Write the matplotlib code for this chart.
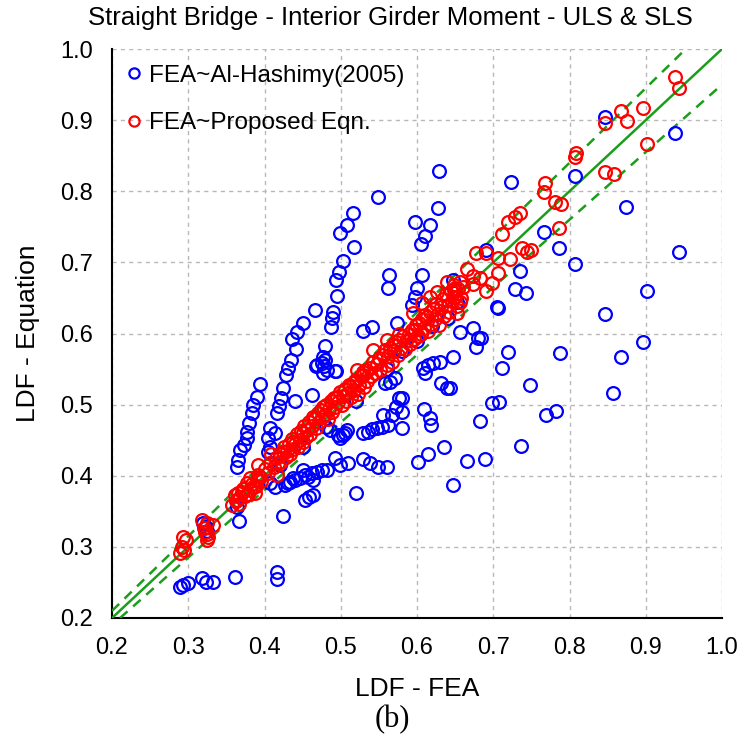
import matplotlib
matplotlib.use("Agg")
import matplotlib.pyplot as plt
import numpy as np

# LDF pairs (FEA, equation) for the interior girder moment, straight bridges
alhashimy = [
    # lowest group
    (0.289, 0.243), (0.293, 0.246), (0.300, 0.249), (0.318, 0.256), (0.323, 0.250),
    (0.332, 0.250), (0.361, 0.257), (0.416, 0.264), (0.416, 0.255),
    (0.319, 0.333), (0.325, 0.323), (0.323, 0.328), (0.364, 0.356), (0.366, 0.336),
    (0.424, 0.343),
    # steep streaks above the line
    (0.364, 0.412), (0.365, 0.422), (0.368, 0.436), (0.373, 0.443), (0.377, 0.453),
    (0.377, 0.461), (0.380, 0.474), (0.383, 0.488), (0.385, 0.499), (0.390, 0.511),
    (0.394, 0.529),
    (0.405, 0.433), (0.407, 0.440), (0.405, 0.453), (0.414, 0.460), (0.407, 0.467),
    (0.417, 0.488), (0.419, 0.498), (0.421, 0.509), (0.424, 0.523), (0.428, 0.541),
    (0.431, 0.551), (0.435, 0.563), (0.441, 0.578), (0.436, 0.592), (0.442, 0.602),
    (0.450, 0.615), (0.440, 0.505), (0.462, 0.513), (0.466, 0.633),
    (0.479, 0.582), (0.477, 0.567), (0.467, 0.554), (0.478, 0.554), (0.477, 0.544),
    (0.494, 0.547), (0.487, 0.609), (0.489, 0.622), (0.490, 0.630), (0.495, 0.653),
    (0.494, 0.675), (0.498, 0.686), (0.503, 0.702), (0.518, 0.722), (0.499, 0.741),
    (0.508, 0.752), (0.516, 0.769), (0.549, 0.792),
    (0.475, 0.558), (0.469, 0.556), (0.482, 0.549), (0.492, 0.547), (0.479, 0.563),
    (0.529, 0.603), (0.541, 0.609), (0.574, 0.615), (0.563, 0.682), (0.562, 0.664),
    (0.606, 0.682), (0.600, 0.664), (0.597, 0.651), (0.593, 0.640), (0.598, 0.757),
    (0.617, 0.752), (0.610, 0.737), (0.605, 0.726), (0.627, 0.776), (0.629, 0.828),
    # below the line, middle range
    (0.427, 0.387), (0.433, 0.391), (0.440, 0.394), (0.446, 0.397), (0.453, 0.401),
    (0.462, 0.404), (0.469, 0.405), (0.475, 0.408), (0.482, 0.408),
    (0.407, 0.390), (0.414, 0.384), (0.431, 0.390), (0.437, 0.397), (0.450, 0.408),
    (0.457, 0.398), (0.463, 0.394),
    (0.453, 0.366), (0.459, 0.370), (0.463, 0.373), (0.520, 0.376),
    (0.499, 0.415), (0.492, 0.425), (0.509, 0.418), (0.529, 0.423), (0.538, 0.418),
    (0.549, 0.412), (0.560, 0.412),
    (0.486, 0.464), (0.496, 0.457), (0.505, 0.460),
    (0.499, 0.453), (0.503, 0.457), (0.508, 0.464), (0.529, 0.460), (0.536, 0.461),
    (0.541, 0.466), (0.547, 0.467), (0.554, 0.468), (0.562, 0.471), (0.580, 0.467),
    (0.555, 0.485), (0.567, 0.485), (0.580, 0.489), (0.573, 0.497), (0.580, 0.509),
    (0.577, 0.510), (0.558, 0.530), (0.564, 0.532), (0.571, 0.537),
    (0.609, 0.494), (0.617, 0.481), (0.619, 0.471),
    (0.601, 0.419), (0.614, 0.430), (0.635, 0.440), (0.647, 0.387),
    (0.630, 0.560), (0.621, 0.558), (0.614, 0.556), (0.608, 0.551), (0.610, 0.544),
    (0.632, 0.530), (0.639, 0.523), (0.647, 0.567),
    # near the band
    (0.647, 0.675), (0.652, 0.644), (0.656, 0.602), (0.673, 0.608), (0.680, 0.594),
    (0.678, 0.581), (0.580, 0.575), (0.620, 0.610), (0.640, 0.622), (0.600, 0.590),
    (0.560, 0.550), (0.520, 0.505), (0.480, 0.468), (0.450, 0.440), (0.420, 0.415),
    # right side
    (0.684, 0.594), (0.705, 0.637), (0.719, 0.574), (0.787, 0.572), (0.896, 0.588),
    (0.868, 0.567), (0.711, 0.551), (0.748, 0.527), (0.857, 0.516), (0.698, 0.502),
    (0.707, 0.504), (0.782, 0.491), (0.769, 0.485), (0.737, 0.442), (0.689, 0.423),
    (0.682, 0.477), (0.665, 0.421), (0.643, 0.523),
    (0.847, 0.627), (0.901, 0.660), (0.943, 0.715), (0.874, 0.778), (0.807, 0.821),
    (0.807, 0.698), (0.786, 0.720), (0.767, 0.743), (0.723, 0.813), (0.691, 0.717),
    (0.735, 0.688), (0.728, 0.662), (0.743, 0.657), (0.706, 0.636), (0.846, 0.904),
    (0.939, 0.882),
]

proposed = [
    (0.289, 0.291), (0.292, 0.300), (0.293, 0.314), (0.297, 0.309), (0.295, 0.296),
    (0.318, 0.338), (0.325, 0.333), (0.332, 0.331), (0.322, 0.321), (0.326, 0.314),
    (0.325, 0.309), (0.320, 0.326), (0.324, 0.318),
    (0.357, 0.359), (0.361, 0.373), (0.365, 0.376), (0.370, 0.377), (0.381, 0.380),
    (0.385, 0.384), (0.390, 0.394), (0.394, 0.398), (0.381, 0.397), (0.377, 0.390),
    (0.387, 0.376), (0.364, 0.366), (0.368, 0.370), (0.362, 0.364), (0.372, 0.382),
    (0.375, 0.372), (0.383, 0.388), (0.389, 0.385), (0.392, 0.401), (0.396, 0.392),
    (0.379, 0.375), (0.366, 0.360),
    (0.391, 0.415), (0.407, 0.418), (0.416, 0.401), (0.409, 0.431), (0.424, 0.433),
    (0.437, 0.447), (0.400, 0.410), (0.404, 0.404), (0.412, 0.412), (0.415, 0.425),
    (0.418, 0.418), (0.420, 0.431), (0.422, 0.420), (0.426, 0.440), (0.428, 0.426),
    (0.430, 0.435), (0.432, 0.445), (0.434, 0.430), (0.436, 0.452), (0.438, 0.437),
    (0.440, 0.445), (0.442, 0.458), (0.444, 0.440), (0.446, 0.450), (0.448, 0.463),
    (0.450, 0.447), (0.450, 0.460),
    (0.452, 0.470), (0.454, 0.455), (0.456, 0.465), (0.458, 0.476), (0.460, 0.458),
    (0.462, 0.470), (0.464, 0.482), (0.466, 0.481), (0.468, 0.467), (0.470, 0.488),
    (0.472, 0.475), (0.474, 0.493), (0.476, 0.482), (0.477, 0.497), (0.479, 0.486),
    (0.481, 0.500), (0.483, 0.480), (0.485, 0.494), (0.487, 0.505), (0.489, 0.490),
    (0.491, 0.510), (0.493, 0.497), (0.495, 0.511), (0.497, 0.503), (0.499, 0.518),
    (0.501, 0.500), (0.503, 0.512), (0.505, 0.522), (0.507, 0.505), (0.509, 0.517),
    (0.511, 0.527), (0.512, 0.525), (0.514, 0.511), (0.516, 0.530), (0.518, 0.520),
    (0.520, 0.535), (0.522, 0.515), (0.524, 0.528), (0.526, 0.540), (0.529, 0.541),
    (0.531, 0.525), (0.533, 0.548), (0.535, 0.533), (0.538, 0.552), (0.540, 0.540),
    (0.542, 0.560), (0.545, 0.545), (0.547, 0.557), (0.550, 0.565), (0.552, 0.548),
    (0.555, 0.570), (0.558, 0.577), (0.560, 0.556), (0.562, 0.568), (0.565, 0.580),
    (0.567, 0.560), (0.570, 0.575), (0.572, 0.588), (0.575, 0.570), (0.577, 0.591),
    (0.579, 0.580), (0.582, 0.597), (0.584, 0.578), (0.586, 0.590), (0.589, 0.600),
    (0.591, 0.585), (0.594, 0.605), (0.596, 0.592), (0.597, 0.605), (0.599, 0.612),
    (0.521, 0.549), (0.529, 0.546), (0.542, 0.577), (0.560, 0.591), (0.568, 0.584),
    (0.577, 0.600), (0.595, 0.629), (0.606, 0.643),
    (0.601, 0.596), (0.603, 0.615), (0.605, 0.600), (0.607, 0.620), (0.609, 0.608),
    (0.611, 0.626), (0.613, 0.623), (0.615, 0.604), (0.617, 0.630), (0.619, 0.614),
    (0.621, 0.635), (0.623, 0.620), (0.625, 0.642), (0.627, 0.628), (0.629, 0.612),
    (0.632, 0.637), (0.634, 0.648), (0.636, 0.625), (0.638, 0.655), (0.640, 0.640),
    (0.642, 0.630), (0.644, 0.660), (0.646, 0.645), (0.648, 0.668), (0.650, 0.652),
    (0.652, 0.638), (0.654, 0.662), (0.656, 0.673), (0.658, 0.650), (0.660, 0.665),
    (0.617, 0.651), (0.626, 0.658), (0.639, 0.672), (0.650, 0.664), (0.653, 0.629),
    (0.648, 0.661), (0.648, 0.651), (0.656, 0.644),
    (0.665, 0.690), (0.673, 0.681), (0.682, 0.678), (0.674, 0.670), (0.678, 0.713),
    (0.690, 0.713), (0.698, 0.671), (0.690, 0.660), (0.706, 0.685), (0.706, 0.706),
    (0.722, 0.705), (0.711, 0.740), (0.719, 0.757), (0.728, 0.764), (0.735, 0.769),
    (0.738, 0.720), (0.744, 0.714), (0.749, 0.717), (0.768, 0.812), (0.767, 0.799),
    (0.781, 0.785), (0.789, 0.782), (0.786, 0.748), (0.808, 0.854), (0.807, 0.848),
    (0.847, 0.827), (0.858, 0.824), (0.847, 0.896), (0.868, 0.913), (0.875, 0.899),
    (0.896, 0.917), (0.901, 0.866), (0.939, 0.961), (0.943, 0.945),
]

axis_ticks = [0.2, 0.3, 0.4, 0.5, 0.6, 0.7, 0.8, 0.9, 1.0]
band = 0.05  # +/-5 % envelope

plt.rcParams["font.family"] = ["Liberation Sans", "DejaVu Sans"]

fig = plt.figure(figsize=(7.42, 7.46), dpi=100)
ax = fig.add_axes([112 / 742, 1 - 618 / 746, 610 / 742, 569 / 746])

green = "#1a9e1a"
lo, hi = axis_ticks[0], axis_ticks[-1]
ax.plot([lo, hi], [lo, hi], color=green, lw=1.8, zorder=3)
ax.plot([lo, hi / (1 + band)], [lo * (1 + band), hi], color=green, lw=1.8,
        ls=(0, (4, 3)), zorder=3)
ax.plot([lo / (1 - band), hi], [lo, hi * (1 - band)], color=green, lw=1.8,
        ls=(0, (4, 3)), zorder=3)

a = np.array(alhashimy)
p = np.array(proposed)
ax.plot(a[:, 0], a[:, 1], ls="none", marker="o", ms=9.2, mfc="none", mec="#0000ff",
        mew=1.6, label="FEA~Al-Hashimy(2005)", zorder=4)
ax.plot(p[:, 0], p[:, 1], ls="none", marker="o", ms=9.2, mfc="none", mec="#ff0000",
        mew=1.6, label="FEA~Proposed Eqn.", zorder=5)

ax.set_xlim(lo, hi)
ax.set_ylim(lo, hi)
ax.set_xticks(axis_ticks)
ax.set_yticks(axis_ticks)
ax.set_xticklabels([f"{t:.1f}" for t in axis_ticks])
ax.set_yticklabels([f"{t:.1f}" for t in axis_ticks])
ax.tick_params(length=0, labelsize=17, pad=14)
ax.grid(True, color="#b8b8b8", ls=(0, (3, 3)), lw=1.0)
ax.set_axisbelow(True)
for s in ["top", "right"]:
    ax.spines[s].set_visible(False)
for s in ["left", "bottom"]:
    ax.spines[s].set_linewidth(1.5)
    ax.spines[s].set_color("black")

ax.set_xlabel("LDF - FEA", fontsize=19, labelpad=13)
ax.set_ylabel("LDF - Equation", fontsize=19, labelpad=14)

leg = ax.legend(loc="upper left", bbox_to_anchor=(-0.003, 1.002), frameon=False,
                fontsize=17.5, markerscale=0.8, handlelength=0.6, handletextpad=0.3,
                labelspacing=1.05, borderaxespad=0.3)

fig.text(390 / 742, 1 - 18 / 746, "Straight Bridge - Interior Girder Moment - ULS & SLS",
         ha="center", va="center", fontsize=18.5)
fig.text(392 / 742, 1 - 720 / 746, "(b)", ha="center", va="center", fontsize=22,
         family=["Liberation Serif", "DejaVu Serif"])

fig.savefig("out.png", dpi=100)
